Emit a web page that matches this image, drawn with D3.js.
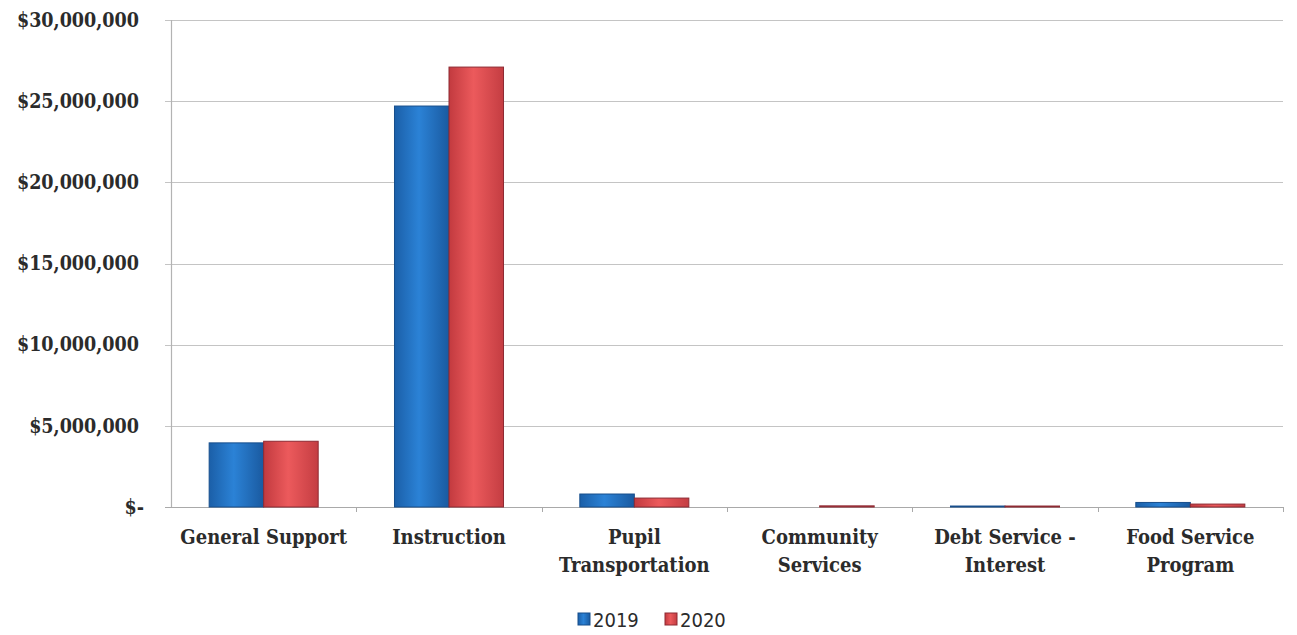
<!DOCTYPE html>
<html>
<head>
<meta charset="utf-8">
<script src="https://cdn.jsdelivr.net/npm/d3@7"></script>
<style>
  body { margin: 0; background: #fff; }
  svg text { fill: #2b2b2b; }
  .serif { font-family: "DejaVu Serif", serif; font-stretch: condensed; font-weight: bold; }
</style>
</head>
<body>
<script>
// values
let categories = ["General Support", "Instruction", "Pupil Transportation",
  "Community Services", "Debt Service - Interest", "Food Service Program"];
let labelLines = [["General Support"], ["Instruction"], ["Pupil", "Transportation"],
  ["Community", "Services"], ["Debt Service -", "Interest"], ["Food Service", "Program"]];
let years = ["2019", "2020"];
let values2019 = [3950000, 24700000, 800000, 0, 60000, 280000];
let values2020 = [4050000, 27100000, 550000, 70000, 60000, 180000];
let yTicks = [0, 5000000, 10000000, 15000000, 20000000, 25000000, 30000000];

let width = 1297, height = 635;
let margin = {left: 171, right: 14, top: 20, bottom: 128};

let svg = d3.select("body").append("svg")
    .attr("width", width)
    .attr("height", height);

let defs = svg.append("defs");
let colors = {"2019": ["#1b5fa8", "#2b82d6", "#1a5aa0"], "2020": ["#c23a3f", "#ec5a5c", "#c43d42"]};
years.forEach(function(yr) {
  let g = defs.append("linearGradient").attr("id", "grad" + yr)
      .attr("x1", 0).attr("x2", 1).attr("y1", 0).attr("y2", 0);
  g.append("stop").attr("offset", "0%").attr("stop-color", colors[yr][0]);
  g.append("stop").attr("offset", "45%").attr("stop-color", colors[yr][1]);
  g.append("stop").attr("offset", "100%").attr("stop-color", colors[yr][2]);
});

let x = d3.scaleBand()
    .domain(categories)
    .range([margin.left, width - margin.right])
    .paddingInner(0)
    .paddingOuter(0);

let x1 = d3.scaleBand()
    .domain(years)
    .range([0, x.bandwidth()])
    .paddingOuter(0.7)
    .paddingInner(0);

let y = d3.scaleLinear()
    .domain([0, 30000000])
    .range([height - margin.bottom, margin.top]);

// gridlines
svg.append("g")
  .selectAll("line")
  .data(yTicks)
  .enter().append("line")
    .attr("x1", margin.left - 6)
    .attr("x2", width - margin.right)
    .attr("y1", d => Math.round(y(d)) + 0.5)
    .attr("y2", d => Math.round(y(d)) + 0.5)
    .attr("stroke", d => d === 0 ? "#a9a9a9" : "#c4c4c4")
    .attr("stroke-width", 1.2);

// y axis line
svg.append("line")
    .attr("x1", margin.left + 0.5).attr("x2", margin.left + 0.5)
    .attr("y1", y(30000000)).attr("y2", y(0))
    .attr("stroke", "#b3b3b3").attr("stroke-width", 1.2);

// y labels
let fmt = d3.format(",");
svg.append("g")
  .selectAll("text")
  .data(yTicks)
  .enter().append("text")
    .attr("class", "serif")
    .attr("x", d => d === 0 ? 144 : 139)
    .attr("y", d => y(d))
    .attr("dy", "0.35em")
    .attr("text-anchor", "end")
    .style("font-size", "19.5px")
    .text(d => d === 0 ? "$-" : "$" + fmt(d));

// x category tick marks
svg.append("g")
  .selectAll("line")
  .data(categories)
  .enter().append("line")
    .attr("x1", d => Math.round(x(d) + x.bandwidth()) + 0.5)
    .attr("x2", d => Math.round(x(d) + x.bandwidth()) + 0.5)
    .attr("y1", y(0))
    .attr("y2", y(0) + 5)
    .attr("stroke", "#a9a9a9");

// bars
let series = [values2019, values2020];
let groups = svg.append("g")
  .selectAll("g")
  .data(categories)
  .enter().append("g")
    .attr("transform", d => "translate(" + x(d) + ",0)");

groups.selectAll("rect")
  .data((d, i) => years.map((yr, j) => ({year: yr, value: series[j][i]})))
  .enter().filter(d => d.value > 0).append("rect")
    .attr("x", d => x1(d.year))
    .attr("width", x1.bandwidth())
    .attr("y", d => y(d.value))
    .attr("height", d => y(0) - y(d.value))
    .attr("fill", d => "url(#grad" + d.year + ")")
    .attr("stroke", d => d.year === "2019" ? "#174e8c" : "#8e2a33")
    .attr("stroke-width", 1);

// category labels
let labels = svg.append("g")
  .selectAll("text")
  .data(categories)
  .enter().append("text")
    .attr("class", "serif")
    .attr("x", d => x(d) + x.bandwidth() / 2)
    .attr("y", 544)
    .attr("text-anchor", "middle")
    .style("font-size", "20px");

labels.selectAll("tspan")
  .data((d, i) => labelLines[i])
  .enter().append("tspan")
    .attr("x", function() { return d3.select(this.parentNode).attr("x"); })
    .attr("dy", (d, i) => i === 0 ? 0 : 28)
    .text(d => d);

// legend
let legend = svg.append("g");
let legendX = [578, 665];
years.forEach(function(yr, i) {
  legend.append("rect")
      .attr("x", legendX[i]).attr("y", 613)
      .attr("width", 12).attr("height", 12)
      .attr("fill", "url(#grad" + yr + ")")
      .attr("stroke", i === 0 ? "#174e8c" : "#8e2a33");
  legend.append("text")
      .attr("x", legendX[i] + 15).attr("y", 620)
      .attr("dy", "0.35em")
      .style("font-family", "'DejaVu Sans', sans-serif")
      .style("font-stretch", "condensed")
      .style("font-size", "20px")
      .text(yr);
});
</script>
</body>
</html>
